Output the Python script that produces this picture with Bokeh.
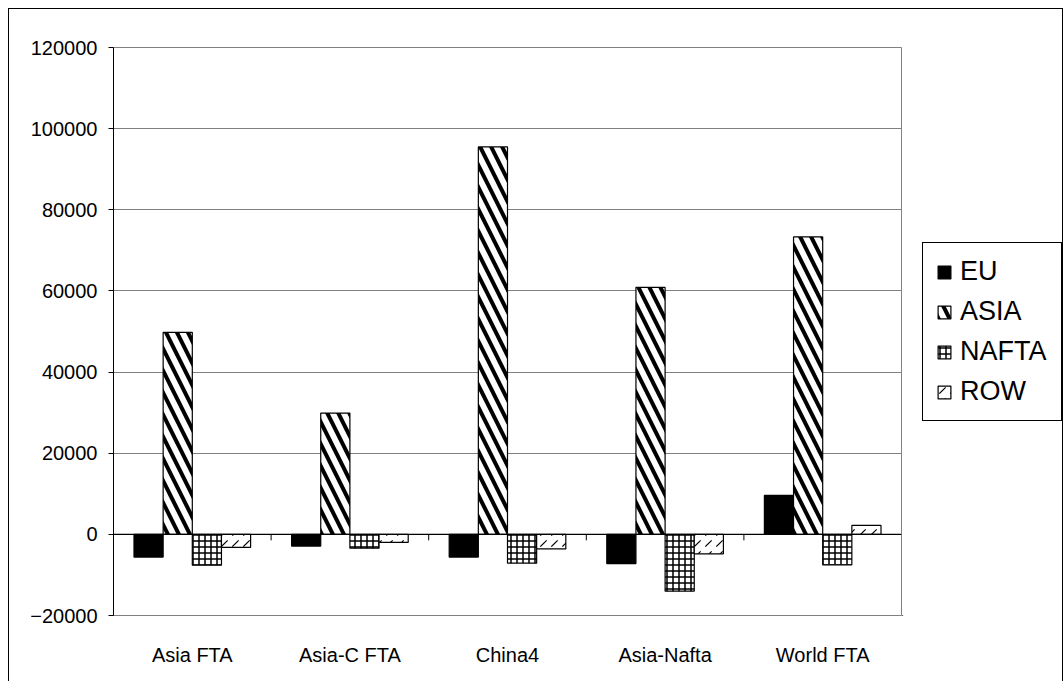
from bokeh.plotting import figure
from bokeh.layouts import row as bk_row
from bokeh.models import (ColumnDataSource, FactorRange, Legend, LegendItem, Span,
                          FixedTicker, BasicTickFormatter, Range1d)
from bokeh.transform import dodge
from bokeh.embed import file_html
from bokeh.resources import INLINE

categories = ["Asia FTA", "Asia-C FTA", "China4", "Asia-Nafta", "World FTA"]
series = ["EU", "ASIA", "NAFTA", "ROW"]
eu = [-5600, -2900, -5600, -7200, 9600]
asia = [49800, 29900, 95500, 60900, 73300]
nafta = [-7600, -3400, -7100, -14000, -7500]
row = [-3200, -2000, -3600, -4800, 2200]
y_ticks = [-20000, 0, 20000, 40000, 60000, 80000, 100000, 120000]

FONT = "Liberation Sans"

source = ColumnDataSource(dict(cat=categories, EU=eu, ASIA=asia, NAFTA=nafta, ROW=row))

p = figure(frame_width=788, frame_height=568, output_backend="svg", toolbar_location=None,
           x_range=FactorRange(*categories, range_padding=0),
           y_range=(y_ticks[0], y_ticks[-1]),
           min_border_left=104, min_border_top=38, min_border_bottom=66,
           min_border_right=1, title=None)
p.background_fill_color = "white"
p.border_fill_color = "white"
p.outline_line_color = "#808080"
p.outline_line_width = 1

# grid
p.xgrid.grid_line_color = None
p.ygrid.grid_line_color = "#808080"
p.ygrid.grid_line_width = 1
p.ygrid.ticker = FixedTicker(ticks=y_ticks)

# y axis
p.yaxis.ticker = FixedTicker(ticks=y_ticks)
p.yaxis.formatter = BasicTickFormatter(use_scientific=False)
p.yaxis.axis_line_color = "black"
p.yaxis.major_tick_line_color = "black"
p.yaxis.major_tick_out = 5
p.yaxis.major_tick_in = 0
p.yaxis.minor_tick_line_color = None
p.yaxis.major_label_standoff = 11
p.yaxis.major_label_text_font = FONT
p.yaxis.major_label_text_font_size = "20px"
p.yaxis.major_label_text_color = "black"

# x axis
p.xaxis.axis_line_color = None
p.xaxis.major_tick_line_color = None
p.xaxis.minor_tick_line_color = None
p.xaxis.major_label_standoff = 22
p.xaxis.major_label_text_font = FONT
p.xaxis.major_label_text_font_size = "20px"
p.xaxis.major_label_text_color = "black"

bw = 0.185
offsets = [-1.5 * bw, -0.5 * bw, 0.5 * bw, 1.5 * bw]
styles = {
    "EU": dict(fill_color="black", hatch_pattern=None),
    "ASIA": dict(fill_color="white", hatch_pattern="\\", hatch_scale=22, hatch_weight=4, hatch_color="black"),
    "NAFTA": dict(fill_color="white", hatch_pattern="+", hatch_scale=6, hatch_weight=1.5, hatch_color="black"),
    "ROW": dict(fill_color="white", hatch_pattern=",", hatch_scale=11, hatch_weight=1.2, hatch_color="black"),
}

def bar_kw(s):
    st = styles[s]
    kw = dict(fill_color=st["fill_color"], line_color="black", line_width=1.2)
    if st["hatch_pattern"]:
        kw.update(hatch_pattern=st["hatch_pattern"], hatch_scale=st["hatch_scale"],
                  hatch_weight=st["hatch_weight"], hatch_color=st["hatch_color"])
    return kw

for s, off in zip(series, offsets):
    p.vbar(x=dodge("cat", off, range=p.x_range), top=s, bottom=0, width=bw,
           source=source, **bar_kw(s))

# zero line and category boundary ticks
p.add_layout(Span(location=0, dimension="width", line_color="black", line_width=1.2))
tick_len = (y_ticks[-1] - y_ticks[0]) / 568 * 6
bounds = list(range(1, len(categories)))
p.segment(x0=bounds, x1=bounds, y0=[0] * len(bounds), y1=[-tick_len] * len(bounds),
          line_color="black", line_width=1)

# legend panel
q = figure(width=160, height=672, output_backend="svg", toolbar_location=None,
           x_range=Range1d(0, 1), y_range=Range1d(0, 1),
           min_border_left=0, min_border_right=0, min_border_top=0, min_border_bottom=0,
           title=None)
q.axis.visible = False
q.grid.visible = False
q.outline_line_color = None
q.background_fill_color = "white"
q.border_fill_color = "white"

# legend swatch renderers: one point placed outside the visible range
swatch = ColumnDataSource(dict(x=[-5], top=[-5]))
leg_renderers = {}
for s in series:
    leg_renderers[s] = q.vbar(x="x", top="top", bottom=-6, width=0.1, source=swatch, **bar_kw(s))

legend = Legend(items=[LegendItem(label=s, renderers=[leg_renderers[s]]) for s in series],
                location=(20, 194))
legend.border_line_color = "black"
legend.border_line_alpha = 1
legend.border_line_width = 1
legend.background_fill_color = "white"
legend.background_fill_alpha = 1
legend.label_text_font = FONT
legend.label_text_font_size = "27px"
legend.label_text_color = "black"
legend.glyph_width = 16
legend.glyph_height = 16
legend.label_standoff = 8
legend.label_height = 30
legend.label_width = 88
legend.spacing = 9
legend.padding = 13
legend.margin = 0
q.add_layout(legend, "center")

layout = bk_row(p, q, spacing=0)
layout.styles = {"border": "1px solid black", "margin-left": "8px", "margin-top": "8px"}

open("out.html", "w").write(file_html(layout, INLINE))
